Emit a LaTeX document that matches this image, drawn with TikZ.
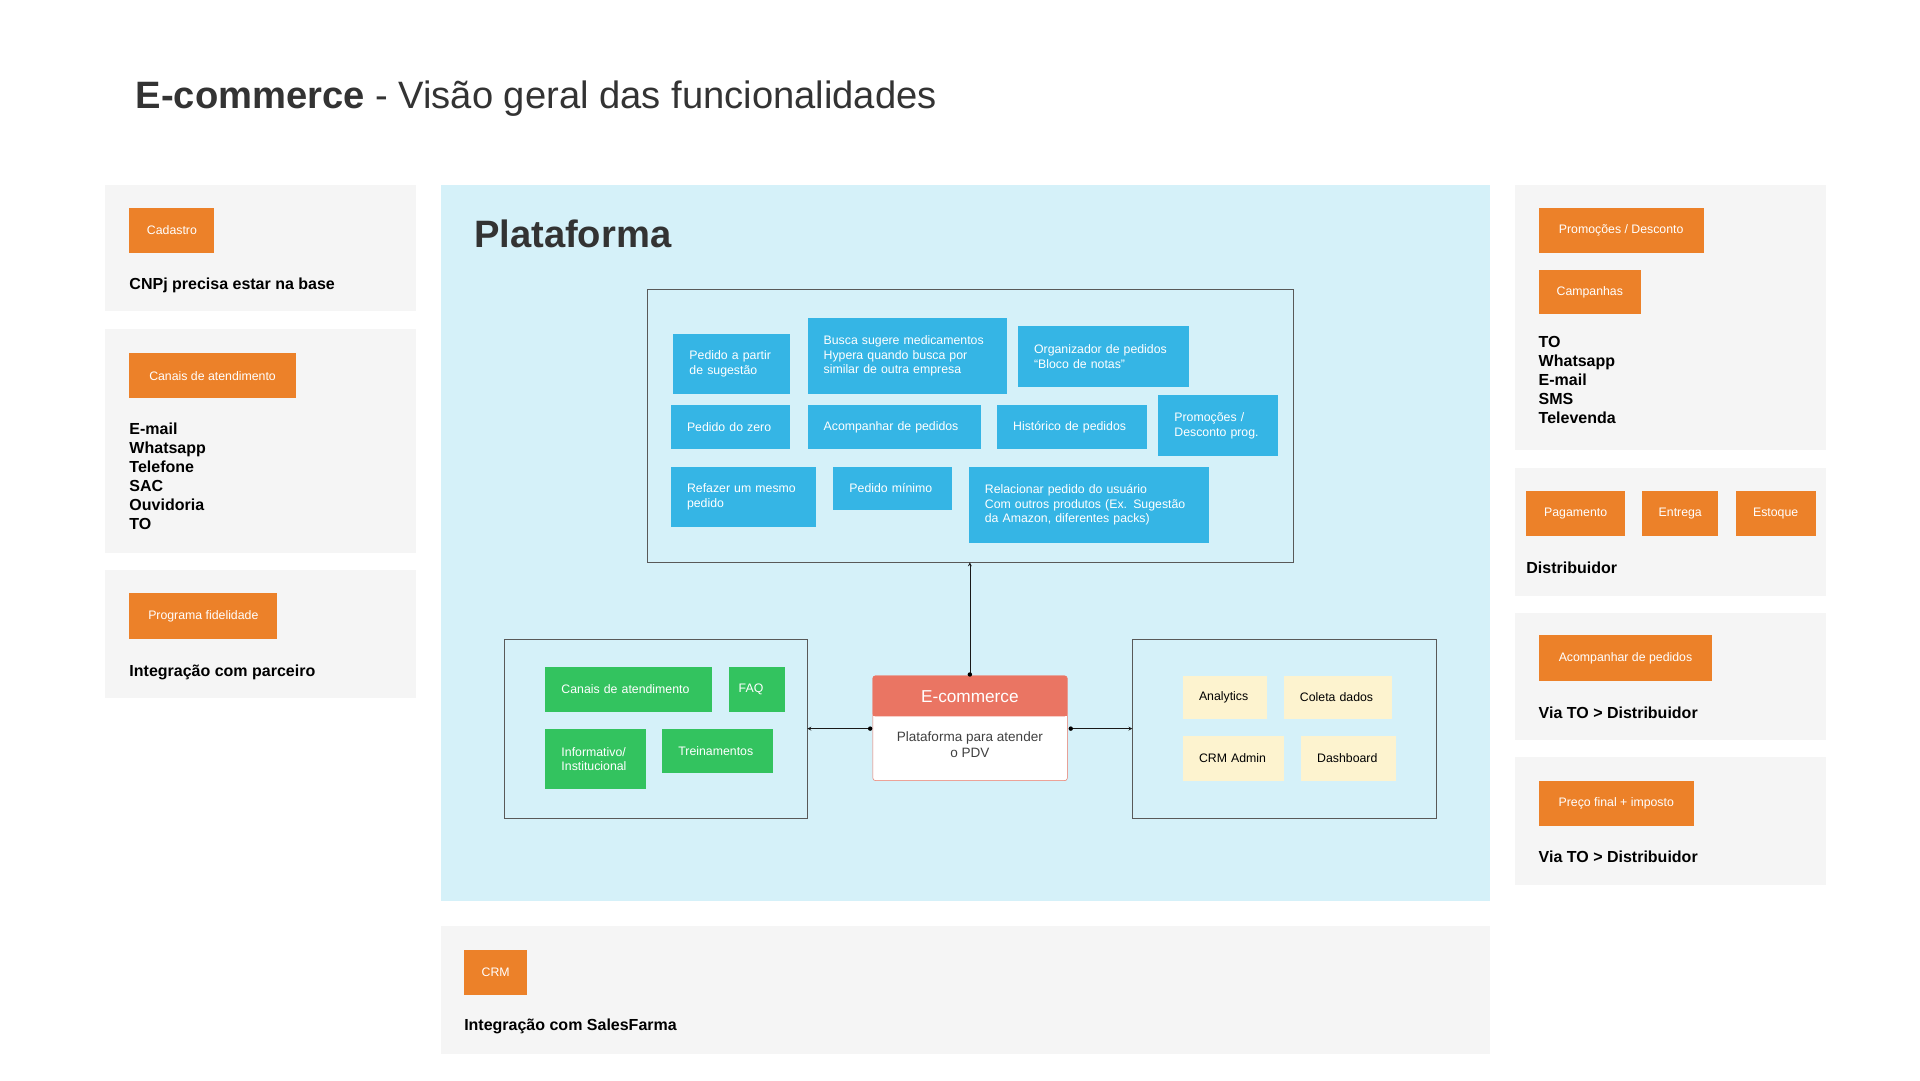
\documentclass[tikz,border=0pt]{standalone}
\usepackage{fontspec}
\setmainfont{Liberation Sans}
\begin{document}
\begin{tikzpicture}[x=1pt,y=-1pt,
 panel/.style={fill=gray!8,draw=none},
 ob/.style={fill=orng,draw=none,text=white,font=\fontsize{10}{12}\selectfont},
 bb/.style={fill=bblue,draw=none,text=white,font=\fontsize{10}{12}\selectfont,align=left},
 gb/.style={fill=ggreen,draw=none,text=white,font=\fontsize{10}{12}\selectfont,align=left},
 yb/.style={fill=yyel,draw=none,text=black,font=\fontsize{10}{12}\selectfont},
 lbl/.style={anchor=north west,font=\bfseries\fontsize{13}{15.5}\selectfont,align=left,inner sep=0},
 arr/.style={->,>=stealth,gray!20!black,thin}]
\definecolor{orng}{HTML}{EC8129}\definecolor{bblue}{HTML}{35B5E5}
\definecolor{ggreen}{HTML}{33C35F}\definecolor{yyel}{HTML}{FDF3CF}
\definecolor{plat}{HTML}{D5F1F9}\definecolor{red1}{HTML}{EA7563}
\path[use as bounding box,fill=white] (0,0) rectangle (1560,878);
\node[anchor=west,inner sep=0,text=black!80,font=\fontsize{31}{36}\selectfont] (title) at (110,80) {\textbf{E-commerce} - Visão geral das funcionalidades};
% left panels
\fill[panel] (85,150) rectangle (338,253);
\fill[panel] (85,267) rectangle (338,449);
\fill[panel] (85,463) rectangle (338,567);
\newcommand\bx[5]{\node[#1,minimum width={(#4)-(#2)},minimum height={(#5)-(#3)},anchor=north west,inner sep=0] at (#2,#3)}
\node[ob,anchor=north west,minimum width=69,minimum height=36,inner sep=0] (cad) at (105,169) {Cadastro};
\node[lbl] (cnpj) at (105,226) {CNPj precisa estar na base};
\node[ob,anchor=north west,minimum width=135,minimum height=36,inner sep=0] (can) at (105,287) {Canais de atendimento};
\node[lbl] (canl) at (105,343) {E-mail\\Whatsapp\\Telefone\\SAC\\Ouvidoria\\TO};
\node[ob,anchor=north west,minimum width=120,minimum height=37,inner sep=0] (prog) at (105,482) {Programa fidelidade};
\node[lbl] (integ) at (105,540) {Integração com parceiro};
% plataforma
\fill[plat] (358,150) rectangle (1211,732);
\node[anchor=west,inner sep=0,font=\bfseries\fontsize{31}{36}\selectfont,text=black!80] (plt) at (385,190) {Plataforma};
\draw[gray!70!black] (526,235) rectangle (1051,457);
\coordinate (topin) at (788,457);
\tikzset{bxs/.style args={#1/#2}{anchor=north west,minimum width=#1,minimum height=#2,inner sep=0,text width=#1-26,align=left}}
\node[bb,bxs=95/49] (b1) at (547,271) {Pedido a partir\\de sugestão};
\node[bb,bxs=162/62] (b2) at (656,258) {Busca sugere medicamentos\\Hypera quando busca por\\similar de outra empresa};
\node[bb,bxs=139/49] (b3) at (827,265) {Organizador de pedidos\\“Bloco de notas”};
\node[bb,bxs=97/36] (b4) at (545,329) {Pedido do zero};
\node[bb,bxs=141/36] (b5) at (656,329) {Acompanhar de pedidos};
\node[bb,bxs=122/36] (b6) at (810,329) {Histórico de pedidos};
\node[bb,bxs=97/49] (b7) at (941,321) {Promoções /\\Desconto prog.};
\node[bb,bxs=118/49] (b8) at (545,379) {Refazer um mesmo\\pedido};
\node[bb,bxs=96/35] (b9) at (677,379) {Pedido mínimo};
\node[bb,bxs=195/62] (b10) at (787,379) {Relacionar pedido do usuário\\Com outros produtos (Ex. Sugestão\\da Amazon, diferentes packs)};
% left sub
\draw[gray!70!black] (410,519) rectangle (656,665);
\coordinate (leftin) at (656,592);
\node[gb,bxs=135/36] (g1) at (443,542) {Canais de atendimento};
\node[gb,bxs=46/36,text width=30] (g2) at (592,542) {FAQ};
\node[gb,bxs=82/49] (g3) at (443,592) {Informativo/\\Institucional};
\node[gb,bxs=90/36] (g4) at (538,592) {Treinamentos};
% right sub
\draw[gray!70!black] (920,519) rectangle (1167,665);
\coordinate (rightin) at (920,592);
\node[yb,bxs=68/35] (y1) at (961,549) {Analytics};
\node[yb,bxs=88/35] (y2) at (1043,549) {Coleta dados};
\node[yb,bxs=82/36] (y3) at (961,598) {CRM Admin};
\node[yb,bxs=77/36] (y4) at (1057,598) {Dashboard};
% ecommerce
\node[draw=red1,fill=white,rounded corners=2,anchor=north west,minimum width=158,minimum height=85,inner sep=0] (ec) at (709,549) {};
\fill[red1,rounded corners=2] (709,549) rectangle (867,582);
\fill[red1] (709,570) rectangle (867,582);
\node[text=white,font=\fontsize{14}{16}\selectfont] (ect) at (788,566) {E-commerce};
\node[text=black!75,font=\fontsize{11}{13}\selectfont,align=center] (ecs) at (788,605) {Plataforma para atender\\o PDV};
\coordinate (ectop) at (788,548);
\coordinate (ecl) at (707,592);
\coordinate (ecr) at (870,592);
\draw[arr] (ectop) -- (topin);
\draw[arr] (ecl) -- (leftin);
\draw[arr] (ecr) -- (rightin);
\fill (ectop) circle (1.8) (ecl) circle (1.8) (ecr) circle (1.8);
% CRM
\fill[panel] (358,752) rectangle (1211,856);
\node[ob,anchor=north west,minimum width=51,minimum height=36,inner sep=0] (crm) at (377,772) {CRM};
\node[lbl] (sf) at (377,828) {Integração com SalesFarma};
% right panels
\fill[panel] (1231,150) rectangle (1484,366);
\fill[panel] (1231,380) rectangle (1484,484);
\fill[panel] (1231,498) rectangle (1484,601);
\fill[panel] (1231,615) rectangle (1484,719);
\node[ob,anchor=north west,minimum width=134,minimum height=36,inner sep=0] (pr) at (1250,169) {Promoções / Desconto};
\node[ob,anchor=north west,minimum width=83,minimum height=36,inner sep=0] (cp) at (1250,219) {Campanhas};
\node[lbl] (lst) at (1250,273) {TO\\Whatsapp\\E-mail\\SMS\\Televenda};
\node[ob,anchor=north west,minimum width=80,minimum height=36,inner sep=0] (pg) at (1240,399) {Pagamento};
\node[ob,anchor=north west,minimum width=62,minimum height=36,inner sep=0] (en) at (1334,399) {Entrega};
\node[ob,anchor=north west,minimum width=65,minimum height=36,inner sep=0] (es) at (1410,399) {Estoque};
\node[lbl] (dist) at (1240,456) {Distribuidor};
\node[ob,anchor=north west,minimum width=141,minimum height=37,inner sep=0] (ac) at (1250,516) {Acompanhar de pedidos};
\node[lbl] (via1) at (1250,574) {Via TO > Distribuidor};
\node[ob,anchor=north west,minimum width=126,minimum height=37,inner sep=0] (pf) at (1250,634) {Preço final + imposto};
\node[lbl] (via2) at (1250,691) {Via TO > Distribuidor};
\end{tikzpicture}
\end{document}
